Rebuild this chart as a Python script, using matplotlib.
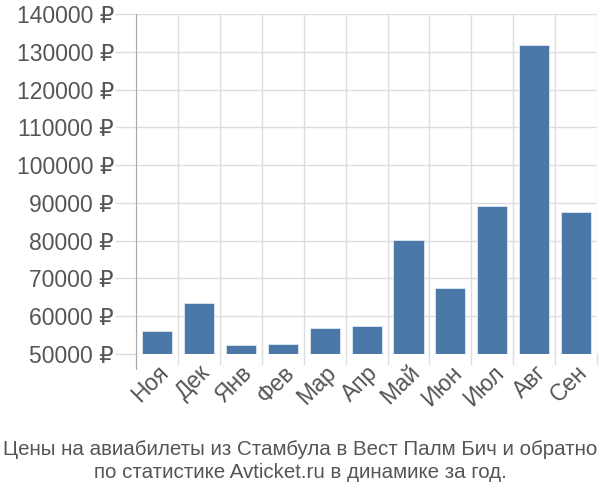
import matplotlib
matplotlib.use("Agg")
import matplotlib.pyplot as plt
import numpy as np

plt.rcParams['font.family'] = ['Liberation Sans', 'DejaVu Sans']

months = ["Ноя", "Дек", "Янв", "Фев", "Мар", "Апр", "Май", "Июн", "Июл", "Авг", "Сен"]
prices = [56000, 63500, 52400, 52600, 57000, 57500, 80300, 67600, 89300, 131800, 87500]
yticks = list(range(50000, 140001, 10000))
title = "Цены на авиабилеты из Стамбула в Вест Палм Бич и обратно\nпо статистике Avticket.ru в динамике за год."

fig = plt.figure(figsize=(6, 5), dpi=100)
ax = fig.add_axes([0.227, 0.292, 0.768, 0.68])

x = np.arange(len(months))
ax.bar(x, prices, width=0.72, color="#4c78a8", edgecolor="#dfe8f3", linewidth=0.6, zorder=3)

ax.set_xlim(-0.5, len(months) - 0.5)
ax.set_ylim(50000, 140000)
ax.set_yticks(yticks)
ax.set_yticklabels([f"{v} ₽" for v in yticks], fontsize=16.5, color="#555555")

ax.set_xticks(x)
ax.set_xticklabels(months, rotation=45, ha="right", rotation_mode="anchor",
                   fontsize=16.5, color="#555555")
ax.tick_params(axis="x", length=0, pad=5)
ax.tick_params(axis="y", length=15, color="#dddddd", width=1, pad=1)

# grid lines at category boundaries
for b in np.arange(-0.5, len(months), 1.0):
    ax.axvline(b, color="#dddddd", linewidth=1, zorder=1)
    ax.plot([b, b], [0, -0.03], transform=ax.get_xaxis_transform(),
            color="#dddddd", linewidth=1, clip_on=False)
ax.yaxis.grid(True, color="#dddddd", linewidth=1, zorder=1)

for s in ["top", "right", "bottom"]:
    ax.spines[s].set_visible(False)
ax.spines["left"].set_color("#aaaaaa")
ax.spines["left"].set_bounds(50000 - 0.045 * 90000, 140000)

fig.text(0.5, 0.035, title, ha="center", va="bottom", fontsize=14.8, color="#555555",
         linespacing=1.3)

fig.savefig("out.png", dpi=100)
